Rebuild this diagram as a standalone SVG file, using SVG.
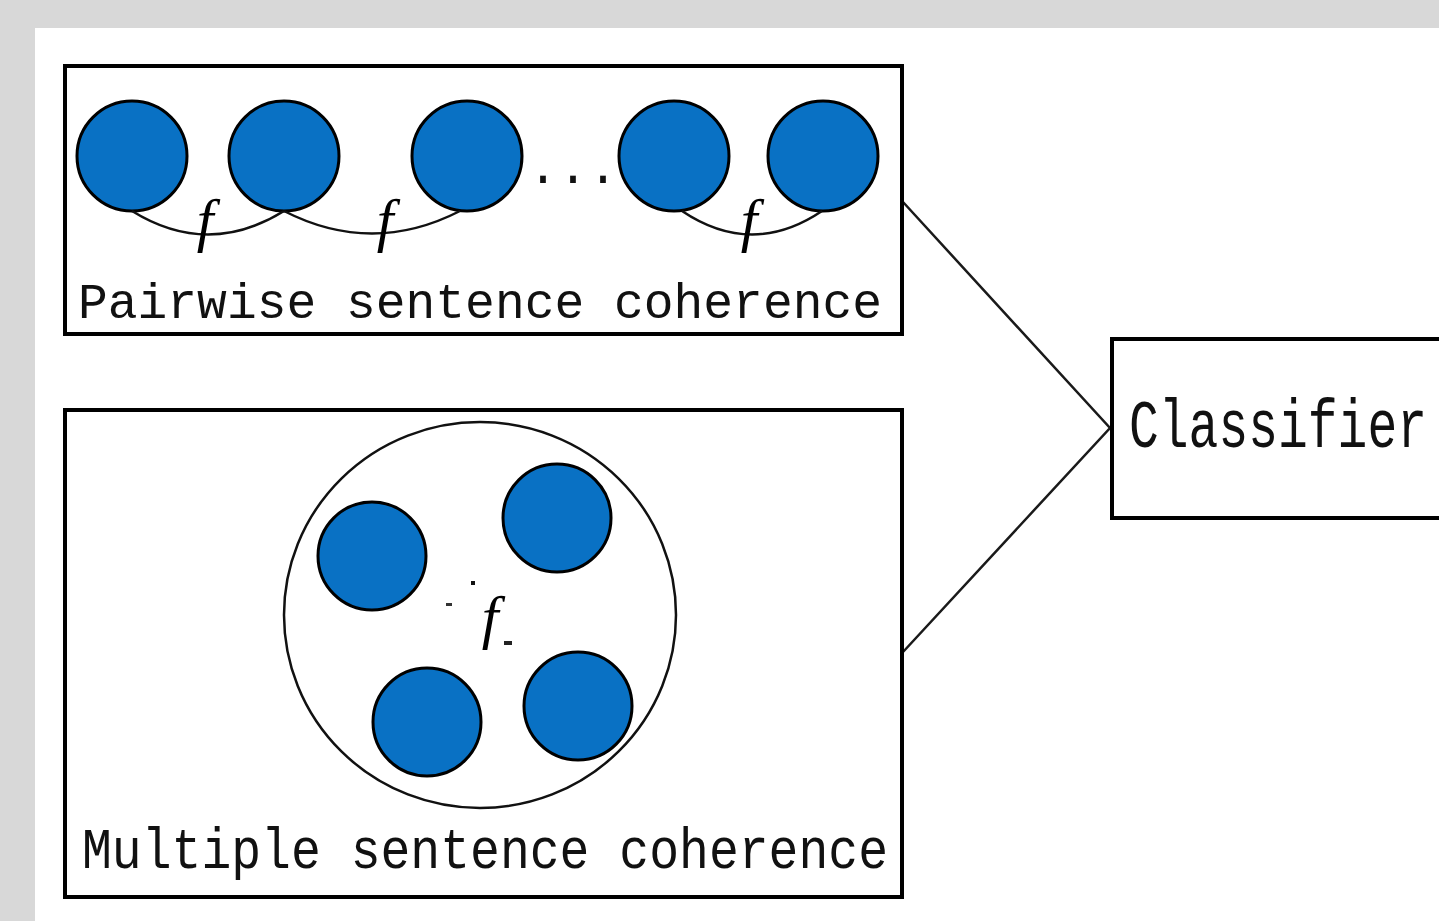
<svg xmlns="http://www.w3.org/2000/svg" width="1439" height="921" viewBox="0 0 1439 921">
  <style>
    .box { fill: #ffffff; stroke: #000000; stroke-width: 4; }
    .dot { fill: #0971c4; stroke: #000000; stroke-width: 3; }
    .arc { fill: none; stroke: #111111; stroke-width: 2.5; }
    .conn { fill: none; stroke: #1a1a1a; stroke-width: 2.5; }
    .mono { font-family: "Liberation Mono", "DejaVu Sans Mono", monospace; fill: #111111; }
    .fn { font-family: "Liberation Serif", "DejaVu Serif", serif; font-style: italic; font-size: 60px; fill: #000000; text-anchor: middle; }
  </style>
  <rect x="0" y="0" width="1439" height="921" fill="#d8d8d8"/>
  <rect x="35" y="28" width="1404" height="893" fill="#ffffff"/>

  <g id="connectors">
    <polyline class="conn" points="903,202 1110,428 903,652"/>
  </g>

  <g id="pairwise">
    <rect class="box" x="65" y="66" width="837" height="268"/>
    <circle class="dot" cx="132" cy="156" r="55"/>
    <circle class="dot" cx="284" cy="156" r="55"/>
    <circle class="dot" cx="467" cy="156" r="55"/>
    <circle class="dot" cx="674" cy="156" r="55"/>
    <circle class="dot" cx="823" cy="156" r="55"/>
    <path class="arc" d="M132,211 Q208,258 284,211"/>
    <path class="arc" d="M284,211 Q372,256 460,211"/>
    <path class="arc" d="M682,211 Q752,258 822,211"/>
    <text class="fn" x="205" y="240">f</text>
    <text class="fn" x="385" y="240">f</text>
    <text class="fn" x="749" y="240">f</text>
    <text class="mono" x="528" y="183" font-size="50">...</text>
    <text class="mono" x="78" y="318" font-size="50" textLength="804" lengthAdjust="spacingAndGlyphs">Pairwise sentence coherence</text>
  </g>

  <g id="multiple">
    <rect class="box" x="65" y="410" width="837" height="487"/>
    <ellipse cx="480" cy="615" rx="196" ry="193" fill="none" stroke="#111111" stroke-width="2.5"/>
    <circle class="dot" cx="372" cy="556" r="54"/>
    <circle class="dot" cx="557" cy="518" r="54"/>
    <circle class="dot" cx="427" cy="722" r="54"/>
    <circle class="dot" cx="578" cy="706" r="54"/>
    <rect x="471" y="581" width="4" height="4" fill="#111111"/>
    <rect x="446" y="603" width="6" height="3" fill="#333333"/>
    <rect x="504" y="641" width="8" height="4" fill="#222222"/>
    <text class="fn" x="490" y="637">f</text>
    <text class="mono" x="82" y="868" font-size="58" textLength="806" lengthAdjust="spacingAndGlyphs">Multiple sentence coherence</text>
  </g>

  <g id="classifier">
    <path class="box" d="M1439,339 H1112 V518 H1439"/>
    <text class="mono" x="1129" y="447" font-size="68" textLength="298" lengthAdjust="spacingAndGlyphs">Classifier</text>
  </g>
</svg>
